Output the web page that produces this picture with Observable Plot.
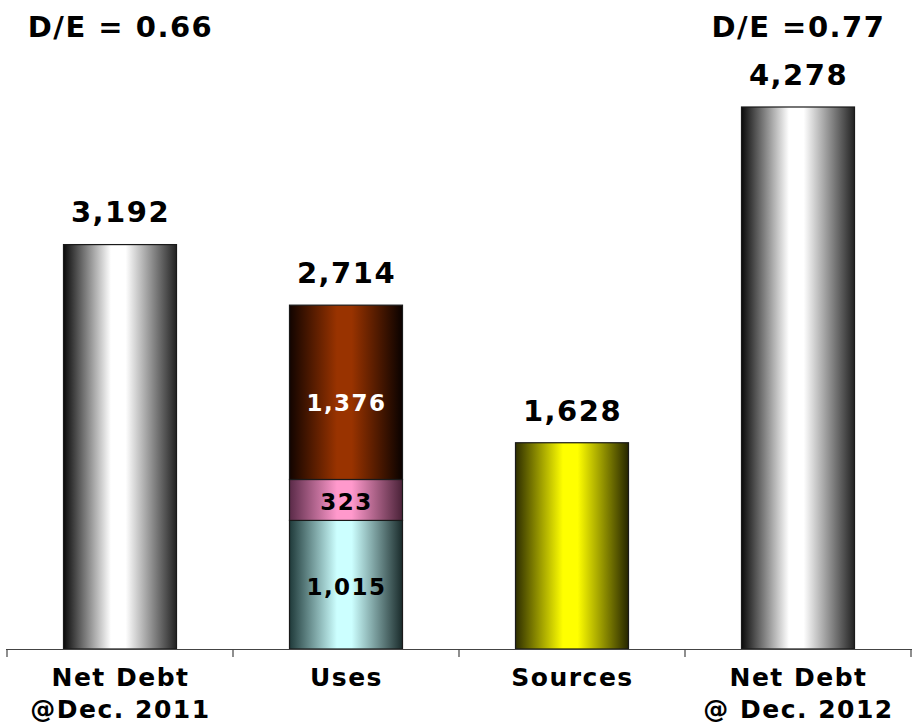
<!DOCTYPE html>
<html>
<head>
<meta charset="utf-8">
<script src="https://cdn.jsdelivr.net/npm/d3@7"></script>
<script src="https://cdn.jsdelivr.net/npm/@observablehq/plot@0.6"></script>
<style>
  html, body { margin: 0; padding: 0; background: #fff; }
  #chart svg { display: block; }
</style>
</head>
<body>
<div id="chart"></div>
<script>
// ---- data ----
const categories = ["Net Debt\n@Dec. 2011", "Uses", "Sources", "Net Debt\n@ Dec. 2012"];
const segCategory = ["Net Debt\n@Dec. 2011", "Uses", "Uses", "Uses", "Sources", "Net Debt\n@ Dec. 2012"];
const segValues = [3192, 1015, 323, 1376, 1628, 4278];
const segColors = ["gray", "cyan", "pink", "brown", "yellow", "gray"];
const segLabels = [null, "1,015", "323", "1,376", null, null];
const segLabelColors = ["#000", "#000", "#000", "#fff", "#000", "#000"];
const totals = [3192, 2714, 1628, 4278];
const totalLabels = ["3,192", "2,714", "1,628", "4,278"];
const deLabels = ["D/E = 0.66", null, null, "D/E =0.77"];

// gradient definitions (edge, center, edge)
const gradients = {
  gray:   ["#0a0a0a", "#ffffff", "#222222"],
  cyan:   ["#1f3a3a", "#ccffff", "#1a2b2b"],
  pink:   ["#5a2a48", "#ff99cc", "#4a2238"],
  brown:  ["#120400", "#993300", "#0a0200"],
  yellow: ["#2e2e00", "#ffff00", "#262600"]
};

const segments = segValues.map((v, i) => ({
  cat: segCategory[i], value: v, color: segColors[i],
  label: segLabels[i], labelColor: segLabelColors[i]
}));
const tops = categories.map((c, i) => ({cat: c, total: totals[i], label: totalLabels[i], de: deLabels[i]}));

const W = 913, H = 723;
const font = "'DejaVu Sans', Verdana, sans-serif";

function defsMark() {
  const defs = d3.create("svg:defs");
  for (const [name, [a, b, c]] of Object.entries(gradients)) {
    const g = defs.append("linearGradient").attr("id", "g-" + name)
      .attr("x1", "0%").attr("x2", "100%").attr("y1", "0%").attr("y2", "0%");
    g.append("stop").attr("offset", "0%").attr("stop-color", a);
    g.append("stop").attr("offset", "42%").attr("stop-color", b);
    g.append("stop").attr("offset", "55%").attr("stop-color", b);
    g.append("stop").attr("offset", "100%").attr("stop-color", c);
  }
  return defs.node();
}

function ticksMark(index, scales, values, dims) {
  const x = scales.x, y = scales.y;
  const step = x.step ? x.step() : (dims.width - dims.marginLeft - dims.marginRight) / categories.length;
  const g = d3.create("svg:g").attr("stroke", "#444").attr("stroke-width", 1.2);
  const y0 = y(0);
  const edges = categories.map(c => x(c)).concat([x(categories[categories.length - 1]) + step]);
  for (const ex of edges) {
    g.append("line").attr("x1", ex).attr("x2", ex).attr("y1", y0).attr("y2", y0 + 8);
  }
  return g.node();
}

const plot = Plot.plot({
  width: W,
  height: H,
  marginLeft: 6,
  marginRight: 1,
  marginTop: 107,
  marginBottom: 74,
  style: {fontFamily: font, fontWeight: "bold", color: "#000", background: "#fff"},
  x: {type: "band", domain: categories, padding: 0, label: null},
  y: {domain: [0, d3.max(totals)], axis: null},
  color: {type: "identity"},
  marks: [
    defsMark,
    Plot.barY(segments, {
      x: "cat", y: "value",
      fill: d => "url(#g-" + d.color + ")",
      stroke: "#1a1a1a", strokeWidth: 1.2,
      insetLeft: 56.5, insetRight: 56.5
    }),
    Plot.text(segments, Plot.stackY({
      x: "cat", y: "value", text: d => d.color === "brown" ? null : d.label,
      fill: "labelColor", fontSize: 23, dy: 2
    })),
    Plot.text(segments, Plot.stackY({
      x: "cat", y: "value", text: d => d.color === "brown" ? d.label : null,
      fill: "labelColor", fontSize: 23, dy: 11
    })),
    Plot.text(tops, {x: "cat", y: "total", text: "label", fontSize: 29, dy: -32, fill: "#000"}),
    Plot.text(tops, {x: "cat", text: "de", frameAnchor: "top", lineAnchor: "middle", dy: -80, fontSize: 29, fill: "#000"}),
    Plot.ruleY([0], {stroke: "#444", strokeWidth: 1.2}),
    ticksMark,
    Plot.axisX({tickSize: 0, tickPadding: 13, fontSize: 25, lineHeight: 1.3, label: null})
  ]
});
plot.querySelectorAll("text").forEach(t => t.style.letterSpacing = "1.5px");
document.getElementById("chart").appendChild(plot);
</script>
</body>
</html>
